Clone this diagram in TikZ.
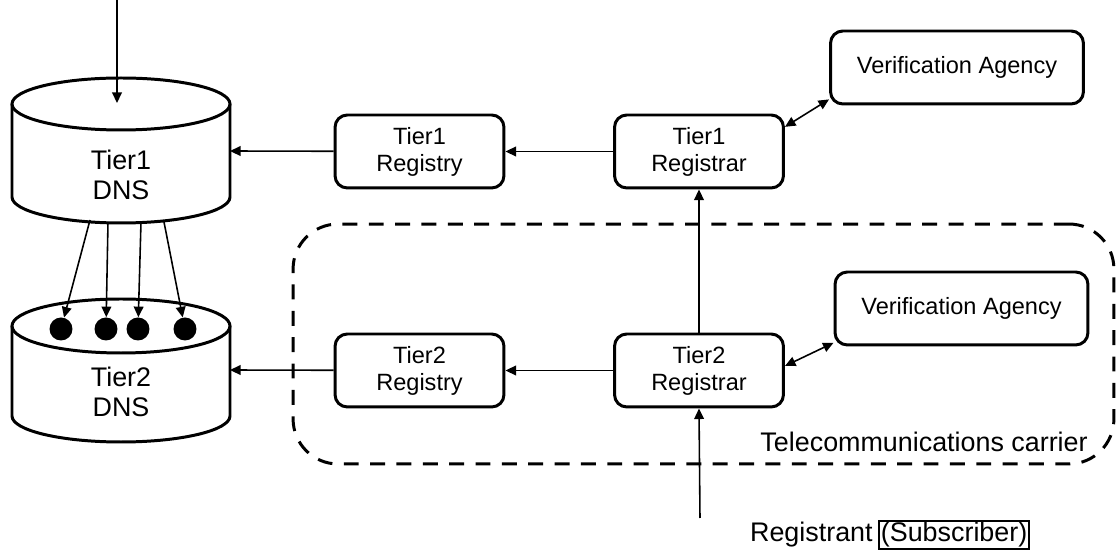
\documentclass[tikz,border=0pt]{standalone}
\usepackage{fontspec}
\setmainfont{Liberation Sans}
\usetikzlibrary{arrows.meta}
\usetikzlibrary{positioning}
\tikzstyle{entity}=[draw, line width=1.7pt, rounded corners=7pt, minimum width=3.38cm, minimum height=1.46cm, align=center, font=\fontsize{13.4}{15.3}\selectfont]
\tikzstyle{agency}=[entity, minimum width=5.06cm]
\tikzstyle{database}=[line width=1.7pt]
\tikzstyle{dbtext}=[align=center, font=\fontsize{15.3}{17}\selectfont]
\tikzstyle{flow}=[-{Triangle[length=6pt, width=5.5pt]}, line width=0.9pt]
\tikzstyle{exchange}=[{Triangle[length=6pt, width=5.5pt]}-{Triangle[length=6pt, width=5.5pt]}, line width=0.9pt]
\tikzstyle{record}=[circle, fill, inner sep=0pt, minimum size=0.46cm]
\tikzstyle{carrier}=[draw, line width=1.7pt, dash pattern=on 8.5pt off 6.5pt, rounded corners=0.9cm, minimum width=16.42cm, minimum height=4.8cm]

\begin{document}
\begin{tikzpicture}[x=0.02cm, y=-0.02cm]
      \useasboundingbox (0, 0) rectangle (1117, 553);
      % databases
      \draw[database] (121, 104) ellipse [x radius=109, y radius=26];
      \draw[database] (12, 104) -- (12, 197)
        arc [start angle=180, end angle=0, x radius=109, y radius=26] -- (230, 104);
      \draw[database] (121, 326) ellipse [x radius=109, y radius=27];
      \draw[database] (12, 326) -- (12, 416)
        arc [start angle=180, end angle=0, x radius=109, y radius=26] -- (230, 326);
      \node[dbtext] (dns1) at (121, 175) {Tier1\\DNS};
      \node[dbtext] (dns2) at (121, 392) {Tier2\\DNS};
      \coordinate (dns1in) at (117, 103);
      \coordinate (dns1east) at (230, 151);
      \coordinate (dns2east) at (230, 370);
      \node[record] (r1) at (61, 329) {};
      \node[record] (r2) at (106, 329) {};
      \node[record] (r3) at (138, 329) {};
      \node[record] (r4) at (185, 329) {};
      \coordinate (s1) at (90, 220);
      \coordinate (s2) at (108, 222);
      \coordinate (s3) at (141, 222);
      \coordinate (s4) at (164, 222);
      % carrier domain
      \node[carrier] (domain) at (703.5, 344) {};
      \node[dbtext, anchor=east, inner sep=0pt] (domainname) at (1088, 442) {Telecommunications carrier};
      % registries and registrars
      \node[entity] (registry1) at (419.5, 151.5) {Tier1\\Registry};
      \node[entity] (registrar1) at (699, 151.5) {Tier1\\Registrar};
      \node[agency] (agency1) at (957, 67.5) {Verification Agency};
      \node[entity] (registry2) at (419.5, 370.5) {Tier2\\Registry};
      \node[entity] (registrar2) at (699, 370.5) {Tier2\\Registrar};
      \node[agency] (agency2) at (961.5, 308.5) {Verification Agency};
      % registrant
      \coordinate (top) at (117, 0);
      \coordinate (entry) at (700, 518);
      \node[dbtext, anchor=base east, inner sep=0pt] (registrant) at (873, 542) {Registrant};
      \node[dbtext, draw, line width=1pt, anchor=base west, inner sep=1pt] (subscriber) at ([xshift=3pt]registrant.base east) {(Subscriber)};
      % connectors
      \draw[flow] (top) to (dns1in);
      \draw[flow] (s1) to (r1);
      \draw[flow] (s2) to (r2);
      \draw[flow] (s3) to (r3);
      \draw[flow] (s4) to (r4);
      \draw[flow] (registrar1) to (registry1);
      \draw[flow] (registry1) to (dns1east);
      \draw[flow] (registrar2) to (registry2);
      \draw[flow] (registry2) to (dns2east);
      \draw[flow] (registrar2) to (registrar1);
      \draw[flow] (entry) to (registrar2.south);
      \draw[exchange] (registrar1.16) to (agency1.194);
      \draw[exchange] (registrar2.3) to (agency2.195);
    \end{tikzpicture}
\end{document}
